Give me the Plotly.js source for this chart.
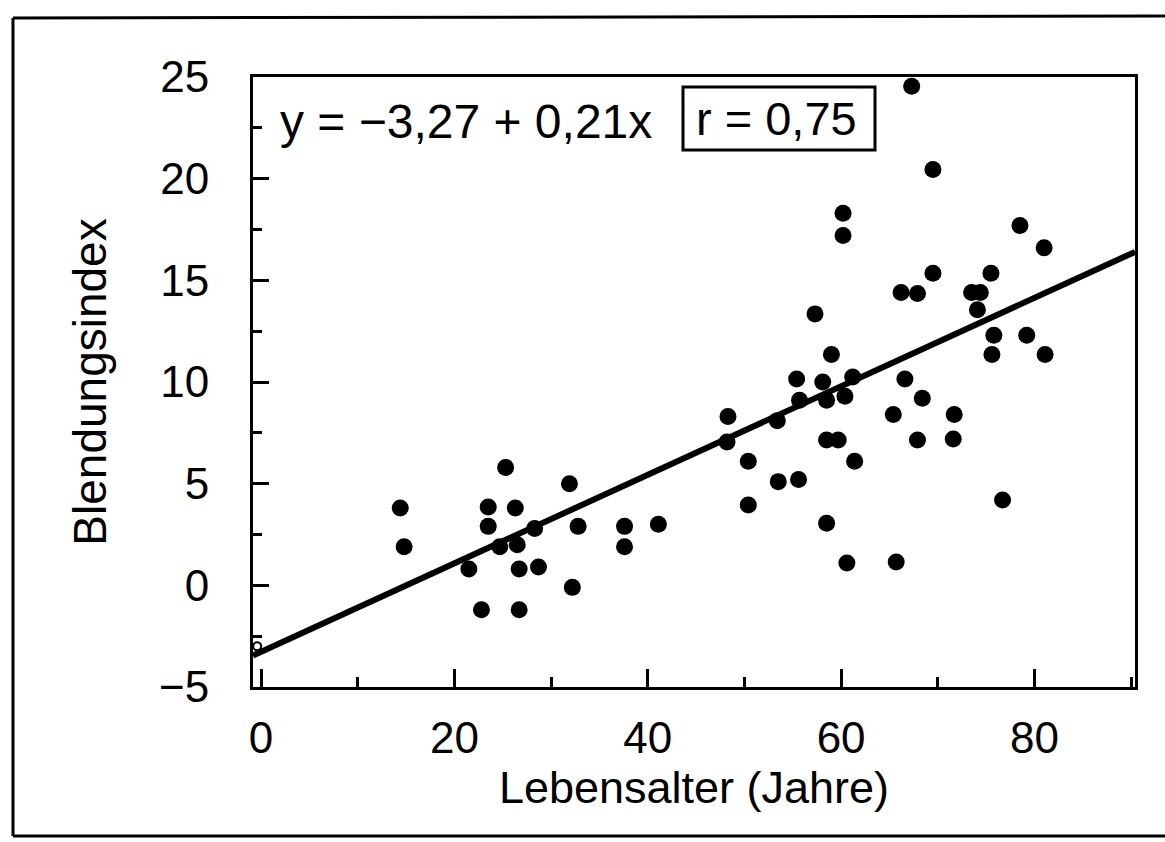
<!DOCTYPE html>
<html>
<head>
<meta charset="utf-8">
<script src="https://cdn.plot.ly/plotly-3.0.1.min.js"></script>
<style>
html,body{margin:0;padding:0;background:#fff;}
#chart{width:1165px;height:842px;}
</style>
</head>
<body>
<div id="chart"></div>
<script>
// Lebensalter (Jahre) of each subject
var ageYears = [
  14.4, 14.8, 25.3, 23.5, 23.5, 26.3, 31.9, 32.8, 28.3, 24.7,
  26.5, 21.5, 26.7, 28.7, 22.8, 26.7, 32.2, 37.6, 37.6, 41.1,
  48.3, 48.2, 50.4, 50.4, 53.5, 55.6, 53.4, 55.4, 55.7, 58.1,
  58.5, 60.4, 61.2, 66.6, 68.4, 65.4, 71.7, 67.9, 71.6, 58.5,
  59.7, 61.4, 58.5, 60.6, 65.7, 76.7,
  67.3, 69.5, 60.2, 60.2, 78.5, 81.0, 69.5, 75.5, 66.2, 67.9,
  73.5, 74.4, 74.1, 57.3, 75.8, 79.2, 75.6, 81.1, 59.0
];
// Blendungsindex of each subject
var glareIndex = [
  3.8, 1.9, 5.8, 3.85, 2.9, 3.8, 5.0, 2.9, 2.8, 1.9,
  2.0, 0.8, 0.8, 0.9, -1.2, -1.2, -0.1, 2.9, 1.9, 3.0,
  8.3, 7.05, 6.1, 3.95, 5.1, 5.2, 8.1, 10.15, 9.1, 10.0,
  9.1, 9.3, 10.25, 10.15, 9.2, 8.4, 8.4, 7.15, 7.2, 7.15,
  7.15, 6.1, 3.05, 1.1, 1.15, 4.2,
  24.55, 20.45, 18.3, 17.2, 17.7, 16.6, 15.35, 15.35, 14.4, 14.35,
  14.4, 14.4, 13.55, 13.35, 12.3, 12.3, 11.35, 11.35, 11.35
];
// regression line y = -3,27 + 0,21x as drawn in the figure (end points)
var fitX = [-0.83, 90.4];
var fitY = [-3.45, 16.4];
// small open intercept marker on the y axis
var interceptX = [-0.4];
var interceptY = [-3.0];

var equationText = 'y = \u22123,27 + 0,21x';
var rText = 'r = 0,75';
var xTitle = 'Lebensalter (Jahre)';
var yTitle = 'Blendungsindex';

var FONT = 'Liberation Sans, Arial, Helvetica, sans-serif';

var traces = [
  {
    x: fitX, y: fitY, type: 'scatter', mode: 'lines',
    line: {color: '#000', width: 6}, hoverinfo: 'skip', cliponaxis: true
  },
  {
    x: ageYears, y: glareIndex, type: 'scatter', mode: 'markers',
    marker: {color: '#000', size: 17, line: {width: 0}}
  },
  {
    x: interceptX, y: interceptY, type: 'scatter', mode: 'markers',
    marker: {color: '#fff', size: 8, line: {color: '#000', width: 2}},
    cliponaxis: false
  }
];

function px2x(p){ return (p - 253) / 882; }
function px2y(p){ return (687 - p) / 610; }

var layout = {
  width: 1165, height: 842,
  margin: {l: 253, r: 30, t: 77, b: 155},
  paper_bgcolor: '#fff', plot_bgcolor: '#fff',
  showlegend: false,
  font: {family: FONT, color: '#000', size: 44},
  xaxis: {
    range: [-0.83, 90.4],
    tickmode: 'linear', tick0: 0, dtick: 20,
    ticks: 'inside', ticklen: 18, tickwidth: 3, tickcolor: '#000',
    minor: {tickmode: 'linear', tick0: 0, dtick: 10, ticks: 'inside', ticklen: 10, tickwidth: 3, tickcolor: '#000'},
    showline: true, linecolor: '#000', linewidth: 3, mirror: true,
    showgrid: false, zeroline: false,
    tickfont: {family: FONT, size: 44, color: '#000'},
    ticklabelstandoff: 10,
    title: {text: xTitle, font: {family: FONT, size: 45, color: '#000'}, standoff: 4}
  },
  yaxis: {
    range: [-5, 25],
    tickmode: 'linear', tick0: 0, dtick: 5,
    ticks: 'inside', ticklen: 16, tickwidth: 3, tickcolor: '#000',
    minor: {tickmode: 'linear', tick0: 0, dtick: 2.5, ticks: 'inside', ticklen: 9, tickwidth: 3, tickcolor: '#000'},
    showline: true, linecolor: '#000', linewidth: 3, mirror: true,
    showgrid: false, zeroline: false,
    tickfont: {family: FONT, size: 44, color: '#000'},
    ticklabelstandoff: 32,
    title: {text: yTitle, font: {family: FONT, size: 46, color: '#000'}, standoff: 38}
  },
  shapes: [
    {type: 'rect', xref: 'paper', yref: 'paper',
     x0: px2x(683), x1: px2x(875), y0: px2y(150), y1: px2y(87),
     line: {color: '#000', width: 3}, fillcolor: 'rgba(0,0,0,0)'},
    {type: 'line', xref: 'paper', yref: 'paper',
     x0: px2x(13), x1: px2x(13), y0: px2y(18), y1: px2y(836), line: {color: '#000', width: 3}},
    {type: 'line', xref: 'paper', yref: 'paper',
     x0: px2x(13), x1: px2x(1165), y0: px2y(18), y1: px2y(16), line: {color: '#000', width: 3}},
    {type: 'line', xref: 'paper', yref: 'paper',
     x0: px2x(13), x1: px2x(1165), y0: px2y(836), y1: px2y(836), line: {color: '#000', width: 3}}
  ],
  annotations: [
    {text: equationText, xref: 'paper', yref: 'paper', x: px2x(278), y: px2y(122),
     xanchor: 'left', yanchor: 'middle', showarrow: false,
     font: {family: FONT, size: 48, color: '#000'}},
    {text: rText, xref: 'paper', yref: 'paper', x: px2x(776), y: px2y(118),
     xanchor: 'center', yanchor: 'middle', showarrow: false,
     font: {family: FONT, size: 47, color: '#000'}}
  ]
};

Plotly.newPlot('chart', traces, layout, {displayModeBar: false, staticPlot: true});
</script>
</body>
</html>
